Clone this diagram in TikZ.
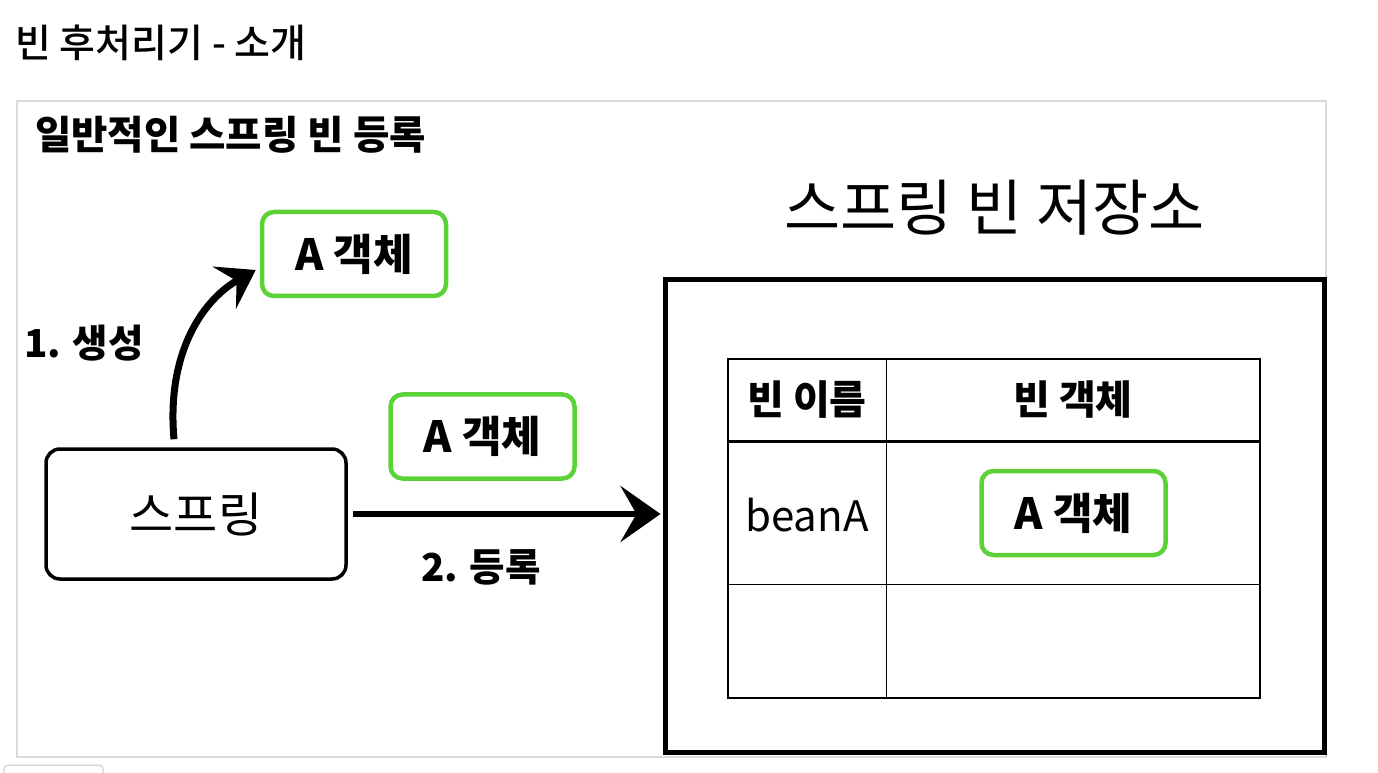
\documentclass[tikz,border=0pt]{standalone}
\usepackage{fontspec}
\setmainfont{Noto Sans CJK KR}
\newfontfamily\medfont{Noto Sans CJK KR Medium}
\usepackage{xcolor}
\usetikzlibrary{arrows.meta, positioning, calc}

\definecolor{objgreen}{RGB}{92,210,56}
\definecolor{framegray}{RGB}{218,218,218}

\begin{document}
\begin{tikzpicture}[%
  x=1pt, y=1pt,
  every node/.style={align=center, inner sep=0pt},
  objbox/.style={draw=objgreen, line width=4.5pt, rounded corners=12pt, minimum width=184pt, minimum height=84pt, font=\fontsize{43}{48}\selectfont\bfseries},
  springbox/.style={draw, line width=3.5pt, rounded corners=14pt, minimum width=300pt, minimum height=130pt, font=\fontsize{48}{52}\selectfont},
  storebox/.style={draw, line width=5pt, minimum width=659pt, minimum height=472pt},
  lbl/.style={font=\fontsize{38.5}{42}\selectfont\bfseries},
  cell/.style={font=\fontsize{40}{44}\selectfont\bfseries},
  arr/.style={-{Stealth[length=40pt, width=56pt, inset=16pt]}, line width=6pt}
]
\useasboundingbox (0,0) rectangle (1378,772);

% page title and frame
\node[anchor=west, font=\fontsize{39}{43}\selectfont\medfont] (title) at (15,729) {빈 후처리기 - 소개};
\draw[framegray, line width=2pt] (17,15) rectangle (1326,671);
\draw[framegray, line width=1.5pt, rounded corners=4pt] (4,-20) rectangle (103,7);
\node[anchor=west, font=\fontsize{39.5}{43}\selectfont\bfseries] (sub) at (35,637) {일반적인 스프링 빈 등록};

% 1. spring creates the object
\node[springbox] (spring) at (196,258) {스프링};
\node[objbox] (objA) at (354,518) {A 객체};
\node[lbl, anchor=west] (create) at (24,429) {1. 생성};
\draw[arr, -{Stealth[length=36pt, width=48pt, inset=14pt]}, line width=7pt]
  ([xshift=-22pt, yshift=8pt]spring.north) .. controls +(-8,90) and +(-50,-28) .. ([xshift=-4pt, yshift=-16pt]objA.west);

% 2. spring registers the object
\node[objbox] (objB) at (482.5,335.5) {A 객체};
\node[storebox] (store) at (994.5,256) {};
\node[font=\fontsize{61}{65}\selectfont, above=42pt of store] (storetitle) {스프링 빈 저장소};
\draw[arr] ([xshift=5pt]spring.east) -- ([xshift=-2pt]spring.east -| store.west);
\node[lbl] (register) at (481,205) {2. 등록};

% bean table
\draw[line width=2pt] (728,74) rectangle (1260,413);
\draw[line width=1pt] (886,74) -- (886,413);
\draw[line width=3pt] (728,331) -- (1260,331);
\draw[line width=1pt] (728,188) -- (1260,188);
\node[cell] (hname) at (807,372) {빈 이름};
\node[cell] (hobj) at (1073,372) {빈 객체};
\node[font=\fontsize{42}{46}\selectfont] (beanname) at (807,257) {beanA};
\node[objbox] (objC) at (1073.5,259) {A 객체};

\end{tikzpicture}
\end{document}
